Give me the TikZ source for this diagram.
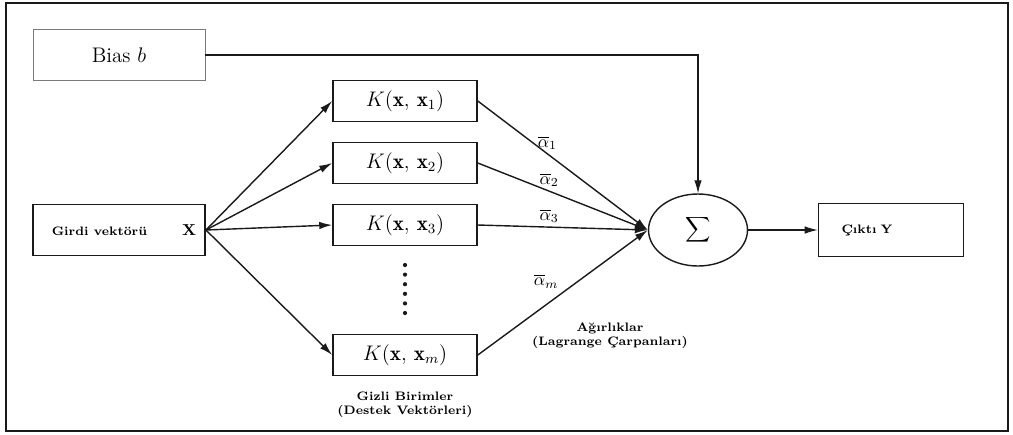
\documentclass[tikz,border=0pt]{standalone}
\usepackage{fontspec}
\usepackage{amsmath}
\usetikzlibrary{arrows.meta,positioning,shapes.geometric}
\definecolor{ink}{HTML}{1A1A1A}
\definecolor{faint}{HTML}{7A7A7A}
\tikzset{
  box/.style={
    draw=ink, line width=0.9pt, inner sep=0pt,
    minimum width=3.44cm, minimum height=1.02cm,
    align=center
  },
  kbox/.style={
    draw=ink, line width=0.9pt, inner sep=0pt,
    minimum width=2.88cm, minimum height=0.82cm,
    font=\large
  },
  sumnode/.style={
    ellipse, draw=ink, line width=0.8pt, inner sep=0pt,
    minimum width=1.98cm, minimum height=1.44cm
  },
  arrow/.style={-{Latex[length=2.6mm,width=1.5mm]}, line width=0.8pt, draw=ink},
  weight/.style={font=\normalsize, inner sep=2pt},
  caption/.style={font=\scriptsize\bfseries, align=center, inner sep=0pt}
}

\begin{document}
\begin{tikzpicture}[x=0.02cm, y=-0.02cm]
    \useasboundingbox (0,0) rectangle (1013,434);
    \draw[line width=1.2pt, ink] (6,3) rectangle (1008,431);

    \node[box, draw=faint, line width=0.5pt, font=\large] (bias) at (119,55) {Bias $b$};
    \node[box, line width=1.1pt, font=\scriptsize\bfseries] (in) at (119,230) {\hspace{0.2cm}Girdi vektörü\hspace{0.7cm}{\small X}};

    \node[kbox] (k1) at (405,101) {$K(\mathbf{x},\, \mathbf{x}_1)$};
    \node[kbox] (k2) at (405,163) {$K(\mathbf{x},\, \mathbf{x}_2)$};
    \node[kbox] (k3) at (405,225) {$K(\mathbf{x},\, \mathbf{x}_3)$};
    \node[kbox] (km) at (405,355) {$K(\mathbf{x},\, \mathbf{x}_m)$};
    \foreach \k in {0,...,5}
      \fill[ink] (405,{265+9.6*\k}) circle (1.2pt);

    \node[sumnode] (sum) at (698,230) {$\displaystyle\sum$};
    \node[box, minimum width=2.9cm, minimum height=1.06cm, text width=1.98cm,
          inner xsep=0.46cm, align=left, font=\scriptsize\bfseries] (out) at (891,230) {Çıktı Y};

    \node[caption, below=0.3cm of km] (hidden) {Gizli Birimler\\(Destek Vektörleri)};
    \node[caption] (weights) at (610,336) {Ağırlıklar\\(Lagrange Çarpanları)};

    % girdi -> cekirdek birimleri
    \foreach \k in {k1,k2,k3,km}
      \draw[arrow] (in.east) -- (\k.west);

    % agirliklar
    \draw[arrow] (k1.east) -- node[weight, pos=0.41, above] {$\overline{\alpha}_1$} (sum.west);
    \draw[arrow] (k2.east) -- node[weight, pos=0.42, above] {$\overline{\alpha}_2$} (sum.west);
    \draw[arrow] (k3.east) -- node[weight, pos=0.42, above] {$\overline{\alpha}_3$} (sum.west);
    \draw[arrow] (km.east) -- node[weight, pos=0.5, above left] {$\overline{\alpha}_m$} (sum.west);

    \draw[arrow, line width=0.6pt] (bias.east) -| (sum.north);
    \draw[arrow, line width=0.6pt] (sum.east) -- (out.west);
  \end{tikzpicture}
\end{document}
